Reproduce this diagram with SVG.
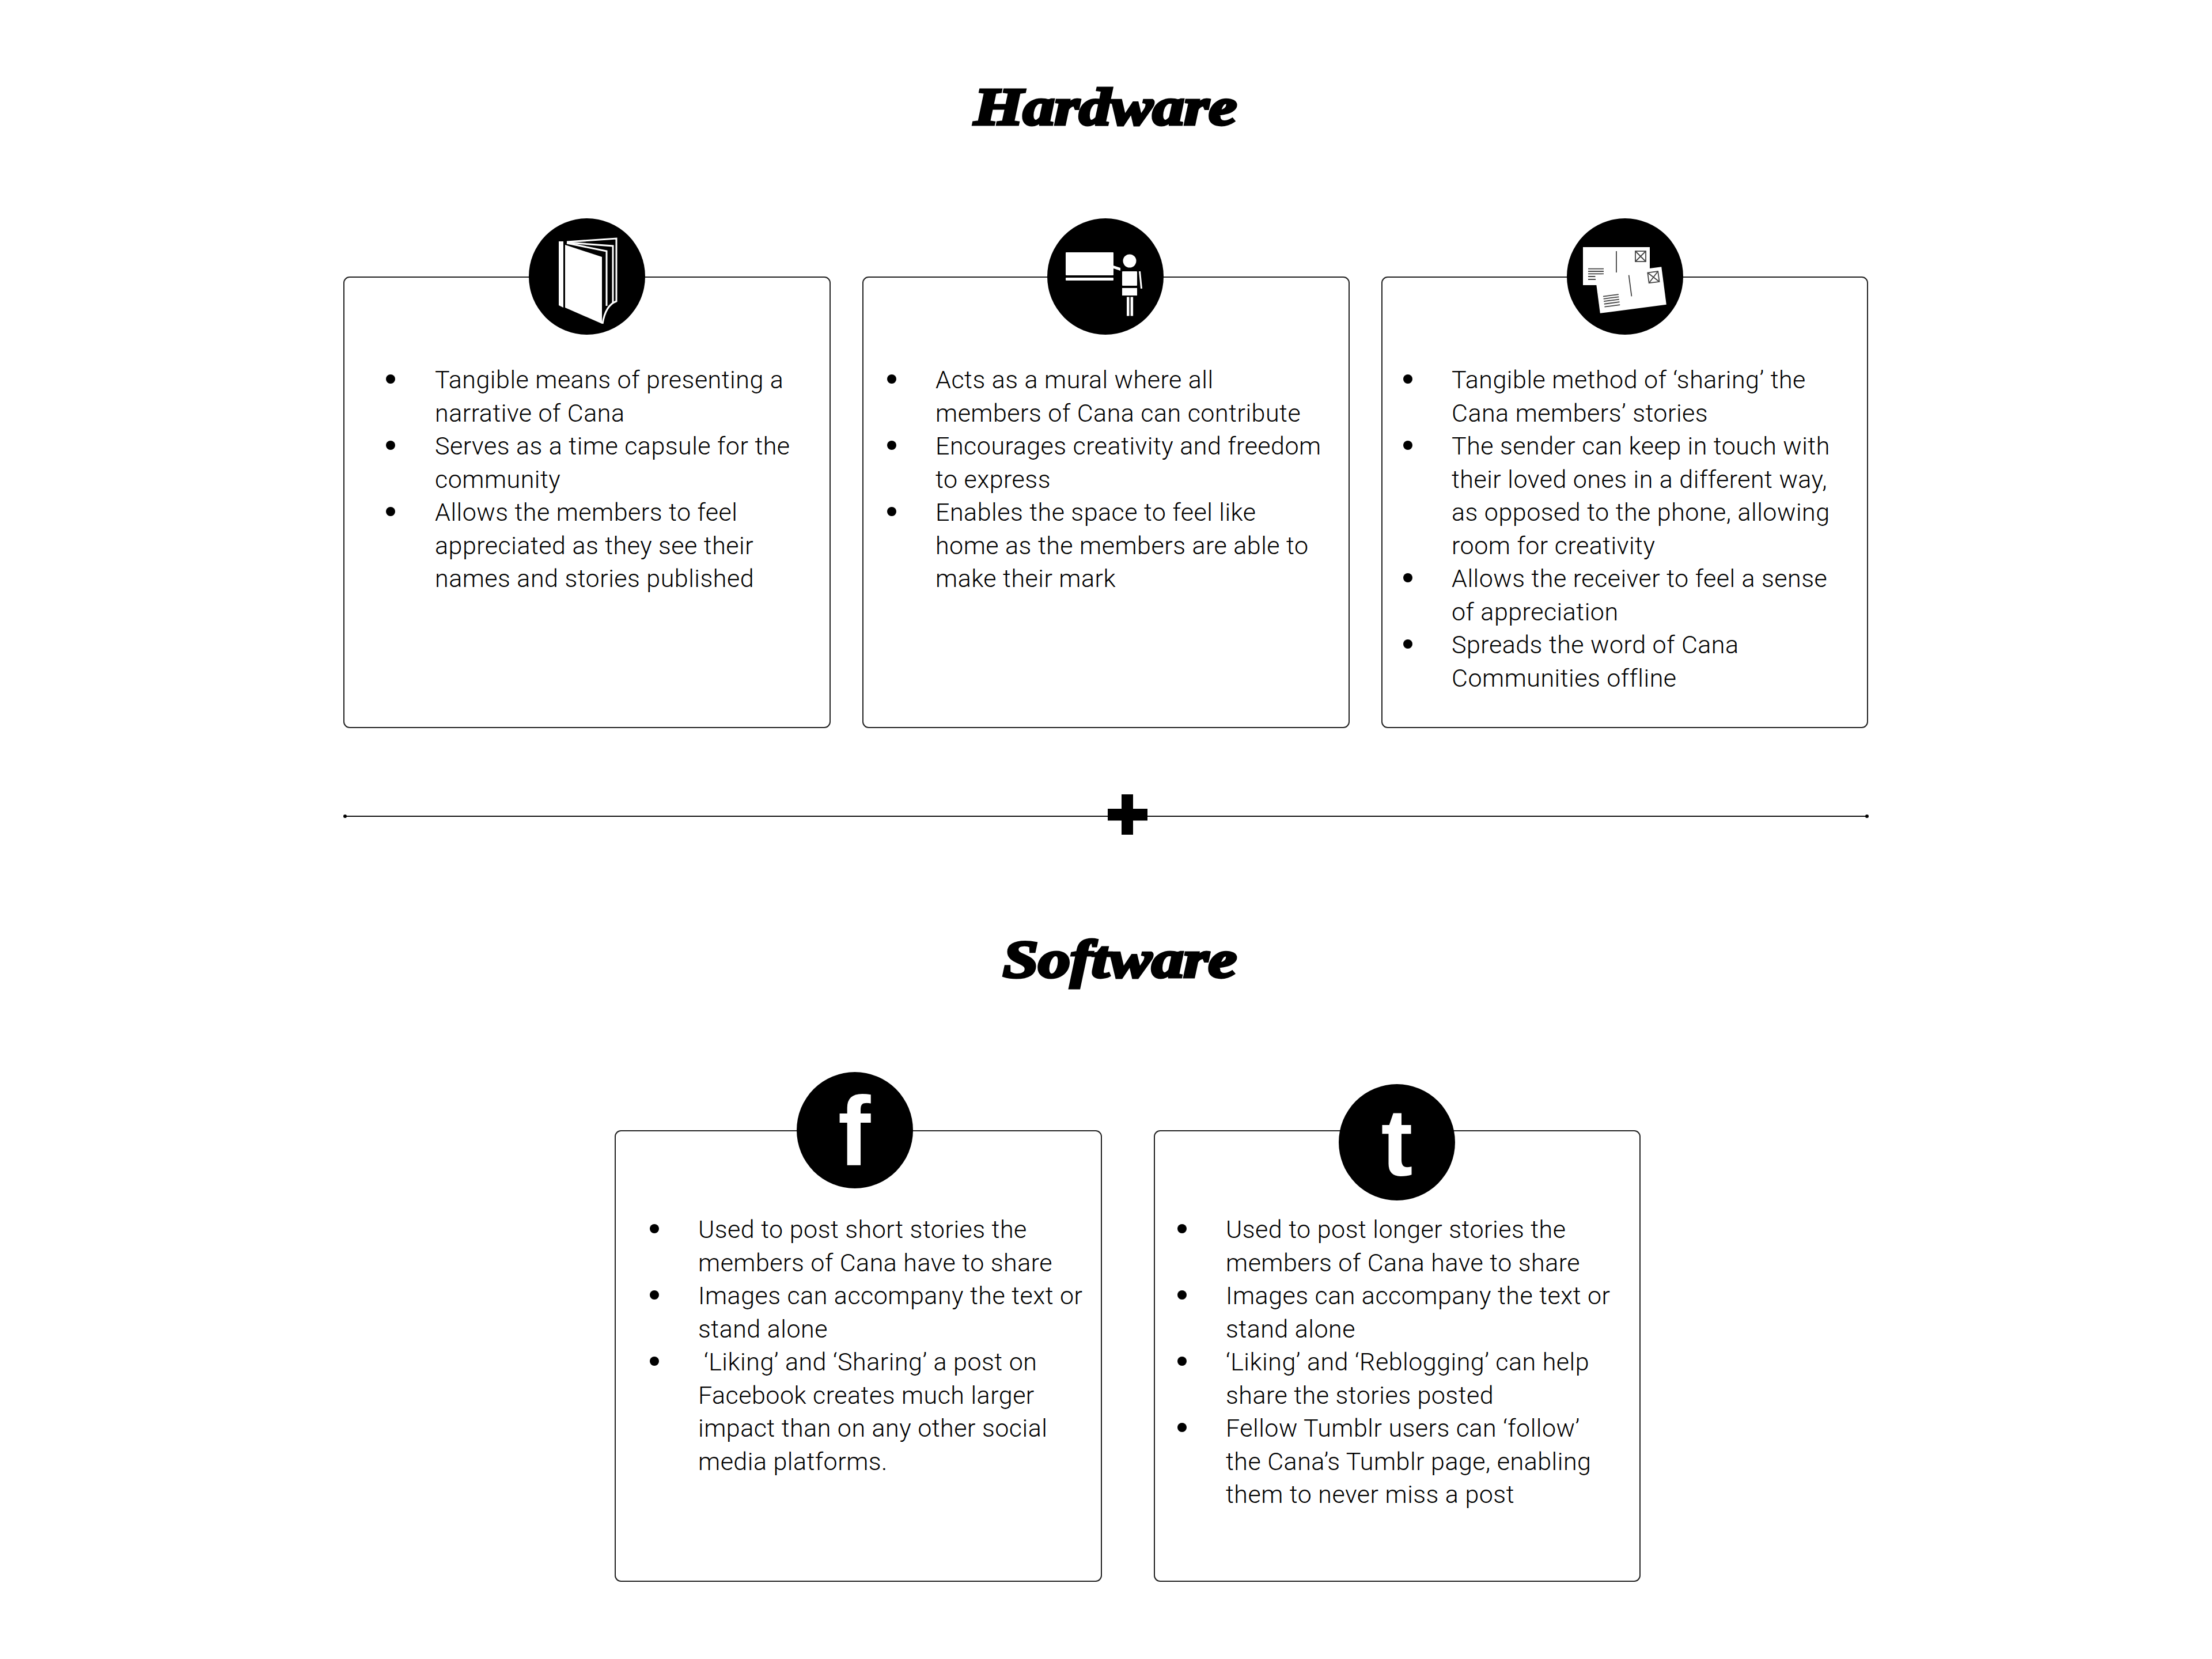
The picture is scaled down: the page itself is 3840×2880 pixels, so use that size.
<svg xmlns="http://www.w3.org/2000/svg" xmlns:xlink="http://www.w3.org/1999/xlink" width="3840" height="2880" viewBox="0 0 3840 2880">
<style>
.card{fill:#fff;stroke:#222;stroke-width:2}
.disc{fill:#000}
.t{font-family:"Roboto","Liberation Sans",sans-serif;font-weight:300;font-size:43px;letter-spacing:.5px;fill:#000}
.h{font-family:"Liberation Serif",serif;font-weight:700;font-style:italic;font-size:92px;fill:#000;stroke:#000;stroke-width:5}
.g{font-family:"Liberation Sans",sans-serif;font-weight:700;fill:#fff}
.b{fill:#000}
.w{fill:#fff}
.wl{fill:none;stroke:#fff;stroke-width:3}
.dl{fill:none;stroke:#444;stroke-width:1.800}
</style>
<defs>
<g id="postcard">
<rect class="w" x="2748" y="429" width="116" height="66"/>
<path class="dl" d="M2806 436V473M2757 466.700H2784M2757 471H2784M2757 475.300H2784M2757 480H2784M2757 485H2784"/>
<rect class="dl" x="2839" y="436" width="18" height="18"/>
<path class="dl" d="M2839 436L2857 454M2857 436L2839 454"/>
</g>
</defs>
<rect width="3840" height="2880" fill="#fff"/>
<text id="title-hardware" class="h" x="1691" y="216" textLength="456" lengthAdjust="spacingAndGlyphs">Hardware</text>
<g id="card-book">
<rect class="card" x="597" y="481" width="844" height="782" rx="10"/>
<circle class="disc" cx="1019" cy="480" r="101"/>
<polygon class="w" points="970,419 978,419 978,534 970,530"/>
<polygon class="w" points="981,425 1045,446 1045,562 981,534"/>
<path class="wl" d="M984 420L1070 414V523Q1051 530 1046 562"/>
<path class="wl" d="M984 421L1064 427V527"/>
<path class="wl" d="M984 422L1053 436V531"/>
<g class="t">
<circle class="b" cx="678" cy="658" r="8"/><circle class="b" cx="678" cy="773" r="8"/><circle class="b" cx="678" cy="888" r="8"/>
<text x="755" y="674">Tangible means of presenting a</text>
<text x="755" y="731.500">narrative of Cana</text>
<text x="755" y="789">Serves as a time capsule for the</text>
<text x="755" y="846.500">community</text>
<text x="755" y="904">Allows the members to feel</text>
<text x="755" y="961.500">appreciated as they see their</text>
<text x="755" y="1019">names and stories published</text>
</g>
</g>
<g id="card-mural">
<rect class="card" x="1498" y="481" width="844" height="782" rx="10"/>
<circle class="disc" cx="1919" cy="480" r="101"/>
<rect class="w" x="1850" y="438" width="83" height="40" rx="1"/>
<rect class="w" x="1850" y="482" width="83" height="5" rx="1"/>
<polygon class="w" points="1933,461 1945,465 1945,470 1933,466"/>
<circle class="w" cx="1961" cy="453" r="11.500"/>
<rect class="w" x="1948" y="471" width="26" height="25" rx="1"/>
<rect class="w" x="1948" y="500" width="26" height="13"/>
<rect class="w" x="1956" y="515.500" width="4.500" height="33"/>
<rect class="w" x="1962.600" y="515.500" width="4.500" height="33"/>
<polygon class="w" points="1977,471 1980,471 1983,501 1980,501"/>
<g class="t">
<circle class="b" cx="1548" cy="658" r="8"/><circle class="b" cx="1548" cy="773" r="8"/><circle class="b" cx="1548" cy="888" r="8"/>
<text x="1624" y="674">Acts as a mural where all</text>
<text x="1624" y="731.500">members of Cana can contribute</text>
<text x="1624" y="789">Encourages creativity and freedom</text>
<text x="1624" y="846.500">to express</text>
<text x="1624" y="904">Enables the space to feel like</text>
<text x="1624" y="961.500">home as the members are able to</text>
<text x="1624" y="1019">make their mark</text>
</g>
</g>
<g id="card-postcards">
<rect class="card" x="2399" y="481" width="843" height="782" rx="10"/>
<circle class="disc" cx="2821" cy="480" r="101"/>
<use xlink:href="#postcard" href="#postcard"/>
<use xlink:href="#postcard" href="#postcard" transform="translate(2831 503.500) rotate(-7.500) translate(-2806 -462)"/>
<g class="t">
<circle class="b" cx="2444" cy="658" r="8"/><circle class="b" cx="2444" cy="773" r="8"/><circle class="b" cx="2444" cy="1003" r="8"/><circle class="b" cx="2444" cy="1118" r="8"/>
<text x="2520" y="674">Tangible method of ‘sharing’ the</text>
<text x="2520" y="731.500">Cana members’ stories</text>
<text x="2520" y="789">The sender can keep in touch with</text>
<text x="2520" y="846.500">their loved ones in a different way,</text>
<text x="2520" y="904">as opposed to the phone, allowing</text>
<text x="2520" y="961.500">room for creativity</text>
<text x="2520" y="1019">Allows the receiver to feel a sense</text>
<text x="2520" y="1076.500">of appreciation</text>
<text x="2520" y="1134">Spreads the word of Cana</text>
<text x="2520" y="1191.500">Communities offline</text>
</g>
</g>
<g id="connectors">
<line x1="597" y1="1417" x2="3242" y2="1417" stroke="#111" stroke-width="2"/>
<circle class="b" cx="599" cy="1417" r="3"/>
<circle class="b" cx="3241" cy="1417" r="3"/>
</g>
<g id="plus">
<path class="b" d="M1947 1379H1967V1404H1992V1424.500H1967V1449H1947V1424.500H1923V1404H1947Z"/>
</g>
<text id="title-software" class="h" x="1741" y="1696" textLength="406" lengthAdjust="spacingAndGlyphs">Software</text>
<g id="card-facebook">
<rect class="card" x="1068" y="1963" width="844" height="782" rx="10"/>
<circle class="disc" cx="1484" cy="1962" r="101"/>
<text class="g" x="1483" y="2023" text-anchor="middle" font-size="170">f</text>
<g class="t">
<circle class="b" cx="1136" cy="2133" r="8"/><circle class="b" cx="1136" cy="2248" r="8"/><circle class="b" cx="1136" cy="2363" r="8"/>
<text x="1212" y="2149">Used to post short stories the</text>
<text x="1212" y="2206.500">members of Cana have to share</text>
<text x="1212" y="2264">Images can accompany the text or</text>
<text x="1212" y="2321.500">stand alone</text>
<text x="1222" y="2379">‘Liking’ and ‘Sharing’ a post on</text>
<text x="1212" y="2436.500">Facebook creates much larger</text>
<text x="1212" y="2494">impact than on any other social</text>
<text x="1212" y="2551.500">media platforms.</text>
</g>
</g>
<g id="card-tumblr">
<rect class="card" x="2004" y="1963" width="843" height="782" rx="10"/>
<circle class="disc" cx="2425" cy="1983" r="101"/>
<text class="g" x="2425" y="2041" text-anchor="middle" font-size="165">t</text>
<g class="t">
<circle class="b" cx="2052" cy="2133" r="8"/><circle class="b" cx="2052" cy="2248" r="8"/><circle class="b" cx="2052" cy="2363" r="8"/><circle class="b" cx="2052" cy="2478" r="8"/>
<text x="2128" y="2149">Used to post longer stories the</text>
<text x="2128" y="2206.500">members of Cana have to share</text>
<text x="2128" y="2264">Images can accompany the text or</text>
<text x="2128" y="2321.500">stand alone</text>
<text x="2128" y="2379">‘Liking’ and ‘Reblogging’ can help</text>
<text x="2128" y="2436.500">share the stories posted</text>
<text x="2128" y="2494">Fellow Tumblr users can ‘follow’</text>
<text x="2128" y="2551.500">the Cana’s Tumblr page, enabling</text>
<text x="2128" y="2609">them to never miss a post</text>
</g>
</g>
</svg>
